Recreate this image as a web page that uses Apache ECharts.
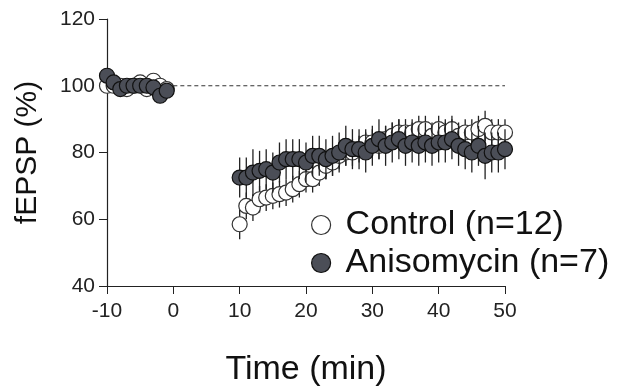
<!DOCTYPE html>
<html>
<head>
<meta charset="utf-8">
<script src="https://cdn.jsdelivr.net/npm/echarts@6/dist/echarts.min.js"></script>
<style>
  html, body { margin: 0; padding: 0; background: #fff; }
  #chart { width: 618px; height: 392px; }
</style>
</head>
<body>
<div id="chart"></div>
<script>
// time points (min)
var times = [-10, -9, -8, -7, -6, -5, -4, -3, -2, -1,
  10, 11, 12, 13, 14, 15, 16, 17, 18, 19, 20, 21, 22, 23, 24, 25, 26, 27, 28, 29,
  30, 31, 32, 33, 34, 35, 36, 37, 38, 39, 40, 41, 42, 43, 44, 45, 46, 47, 48, 49, 50];

var controlMean = [100, 100, 100, 99, 100, 101, 99, 101.5, 100, 99,
  58.5, 64, 63.5, 66, 66.5, 67, 67.5, 68, 69, 70.5, 72, 72, 74, 76, 77, 79, 80, 80, 81, 83,
  83, 82, 84, 85, 86, 86, 86, 87, 87, 85, 87, 86, 87, 85, 86, 86, 87, 88, 86, 86, 86];
var controlErr = [1, 1, 1, 1, 1, 1, 1, 1, 1, 1,
  4.5, 4, 4, 4, 4, 4, 4, 4, 4, 4, 4, 4, 4, 4, 4, 4, 4, 4, 4, 4,
  4, 4, 4, 4, 4, 4, 4, 4, 4, 4, 4, 4, 4, 4, 4, 4, 4, 4.5, 4, 4, 4];

var anisoMean = [103, 101, 99, 100, 100, 100, 100, 99.5, 97, 98.5,
  72.5, 72.5, 74, 74.5, 75, 74, 77, 78, 78, 78, 77, 79, 79, 78, 79, 80, 82, 81, 81, 80,
  82, 84, 82, 83, 84, 82, 83, 82, 83, 82, 83, 83, 84, 82, 81, 80, 82, 79, 80, 80, 81];
var anisoErr = [1, 1, 1, 1, 1, 1, 1, 1, 1, 1,
  6, 6, 7, 6, 6, 6, 6, 6, 6, 6, 6, 6, 6, 6, 6, 6, 6, 6, 6, 6,
  6, 6, 6, 6, 6, 6, 6, 6, 6, 6, 6, 6, 6, 6, 6, 6, 6, 7, 6, 6, 6];

var xTicks = [-10, 0, 10, 20, 30, 40, 50];
var yTicks = [40, 60, 80, 100, 120];

function pairs(mean) {
  return times.map(function (t, i) { return [t, mean[i]]; });
}
function errData(mean, err) {
  return times.map(function (t, i) { return [t, mean[i] - err[i], mean[i] + err[i]]; });
}
function errRender(params, api) {
  var lo = api.coord([api.value(0), api.value(1)]);
  var hi = api.coord([api.value(0), api.value(2)]);
  return {
    type: 'line',
    shape: { x1: lo[0], y1: lo[1], x2: hi[0], y2: hi[1] },
    style: { stroke: '#222', lineWidth: 1.3 }
  };
}

var dark = '#4b4e57';
var font = 'Liberation Sans, Arial, sans-serif';

var chart = echarts.init(document.getElementById('chart'));
chart.setOption({
  animation: false,
  textStyle: { fontFamily: font },
  grid: { left: 107, right: 113, top: 19, bottom: 106 },
  xAxis: {
    type: 'value', min: xTicks[0], max: xTicks[xTicks.length - 1], interval: 10,
    name: 'Time (min)', nameLocation: 'middle', nameGap: 67,
    nameTextStyle: { fontSize: 34, color: '#111', fontFamily: font },
    axisLine: { onZero: false, lineStyle: { color: '#222', width: 1.2 } },
    axisTick: { length: 8, lineStyle: { color: '#222' } },
    axisLabel: { fontSize: 21, color: '#222', margin: 15 },
    splitLine: { show: false }
  },
  yAxis: {
    type: 'value', min: yTicks[0], max: yTicks[yTicks.length - 1], interval: 20,
    name: 'fEPSP (%)', nameLocation: 'middle', nameGap: 64, nameRotate: 90,
    nameTextStyle: { fontSize: 30, color: '#111', fontFamily: font },
    axisLine: { show: true, onZero: false, lineStyle: { color: '#222', width: 1.2 } },
    axisTick: { show: true, length: 8, lineStyle: { color: '#222' } },
    axisLabel: { fontSize: 21, color: '#222', margin: 12 },
    splitLine: { show: false }
  },
  legend: {
    orient: 'vertical', left: 306, top: 203, itemGap: 4,
    itemWidth: 19, itemHeight: 19,
    textStyle: { fontSize: 34, color: '#111', fontFamily: font, padding: [0, 0, 0, 10] },
    data: [
      { name: 'Control (n=12)', icon: 'circle', itemStyle: { color: '#fff', borderColor: '#333', borderWidth: 1.2 } },
      { name: 'Anisomycin (n=7)', icon: 'circle', itemStyle: { color: dark, borderColor: '#111', borderWidth: 1.2 } }
    ]
  },
  series: [
    {
      type: 'line', data: [[0, 100], [50, 100]], symbol: 'none', silent: true,
      lineStyle: { color: '#333', width: 1, type: [4, 3] }, z: 1
    },
    {
      type: 'custom', name: 'Control (n=12)', renderItem: errRender,
      data: errData(controlMean, controlErr), z: 2
    },
    {
      type: 'scatter', name: 'Control (n=12)', data: pairs(controlMean), symbolSize: 15,
      itemStyle: { color: '#fff', borderColor: '#333', borderWidth: 1.2, opacity: 1 }, z: 3
    },
    {
      type: 'custom', name: 'Anisomycin (n=7)', renderItem: errRender,
      data: errData(anisoMean, anisoErr), z: 4
    },
    {
      type: 'scatter', name: 'Anisomycin (n=7)', data: pairs(anisoMean), symbolSize: 15,
      itemStyle: { color: dark, borderColor: '#111', borderWidth: 1.2, opacity: 1 }, z: 5
    }
  ]
});
</script>
</body>
</html>
